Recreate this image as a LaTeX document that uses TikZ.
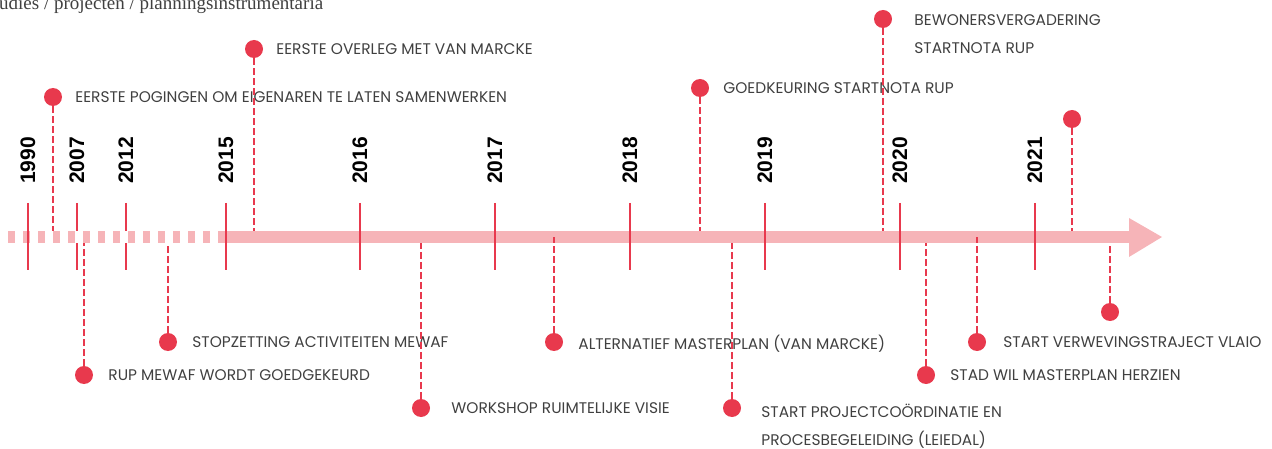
\documentclass[tikz,border=0pt]{standalone}
\usepackage{fontspec}
\setmainfont{Poppins}
\newfontfamily\yearfont{Liberation Sans}
\newfontfamily\headfont{Liberation Serif}
\usetikzlibrary{positioning}

\definecolor{tlred}{RGB}{232,57,77}
\definecolor{tlpink}{RGB}{246,180,184}
\definecolor{tlgrey}{RGB}{64,64,64}

\tikzset{
  evdot/.style={circle, fill=tlred, inner sep=0pt, minimum size=18pt},
  evline/.style={tlred, line width=1.6pt, dash pattern=on 6.5pt off 3.5pt},
  evtext/.style={inner sep=0pt, text depth=0pt, text=tlgrey, align=left,
    font=\fontsize{15.4}{28}\selectfont},
  yeartick/.style={tlred, line width=2.5pt},
  yearlabel/.style={rotate=90, anchor=west, inner sep=0pt,
    font=\yearfont\bfseries\fontsize{21}{21}\selectfont}
}

\begin{document}
\begin{tikzpicture}[x=1pt, y=-1pt, node distance=13pt]
  \useasboundingbox (0,0) rectangle (1272,449);
  \node[anchor=base west, inner sep=0pt, text=tlgrey, font=\headfont\fontsize{19}{19}\selectfont]
    (head) at (-1,9.5) {udies / projecten / planningsinstrumentaria};

  % axis: dashed before 2015, solid with arrow after
  \draw[tlpink, line width=12pt, dash pattern=on 7pt off 8pt] (8,237) -- (225,237);
  \draw[tlpink, line width=12pt] (218,237) -- (1130,237);
  \fill[tlpink] (1129,218) -- (1162,237) -- (1129,257) -- cycle;
  \coordinate (axtop) at (0,231);
  \coordinate (axmid) at (0,237);
  \coordinate (axbot) at (0,243);

  % years
  \foreach \x/\yr in {28/1990, 77/2007, 126/2012, 226/2015, 360/2016, 495/2017,
                      630/2018, 765/2019, 900/2020, 1035/2021} {
    \draw[yeartick] (\x,203) -- (\x,270);
    \node[yearlabel] (y\yr) at (\x,184) {\yr};
  }
  \draw[white, line width=12pt, dash pattern=on 8pt off 7pt] (15,237) -- (218,237);

  % events above the axis
  \node[evdot] (d-pogingen) at (53,97) {};
  \node[evtext, right=of d-pogingen] (t-pogingen) {EERSTE POGINGEN OM EIGENAREN TE LATEN SAMENWERKEN};
  \node[evdot] (d-overleg) at (254,49) {};
  \node[evtext, right=of d-overleg] (t-overleg) {EERSTE OVERLEG MET VAN MARCKE};
  \node[evdot] (d-goedkeuring) at (700,88) {};
  \node[evtext, right=14pt of d-goedkeuring] (t-goedkeuring) {GOEDKEURING STARTNOTA RUP};
  \node[evdot] (d-bewoners) at (883,19) {};
  \node[evtext, right=22pt of d-bewoners, yshift=-15pt] (t-bewoners) {BEWONERSVERGADERING\\STARTNOTA RUP};
  \node[evdot] (d-boven) at (1072,119) {};
  \foreach \d in {pogingen, overleg, goedkeuring, bewoners, boven}
    \draw[evline] (d-\d) -- (d-\d |- axtop);

  % events below the axis
  \node[evdot] (d-rup) at (84,375) {};
  \node[evtext, right=15pt of d-rup] (t-rup) {RUP MEWAF WORDT GOEDGEKEURD};
  \node[evdot] (d-stop) at (168,342) {};
  \node[evtext, right=15pt of d-stop] (t-stop) {STOPZETTING ACTIVITEITEN MEWAF};
  \node[evdot] (d-workshop) at (421,408) {};
  \node[evtext, right=21pt of d-workshop] (t-workshop) {WORKSHOP RUIMTELIJKE VISIE};
  \node[evdot] (d-alt) at (554,342) {};
  \node[evtext, right=15pt of d-alt] (t-alt) {ALTERNATIEF MASTERPLAN (VAN MARCKE)};
  \node[evdot] (d-start) at (732,408) {};
  \node[evtext, right=20pt of d-start, yshift=-17pt] (t-start) {START PROJECTCOÖRDINATIE EN\\PROCESBEGELEIDING (LEIEDAL)};
  \node[evdot] (d-stad) at (926,375) {};
  \node[evtext, right=15pt of d-stad] (t-stad) {STAD WIL MASTERPLAN HERZIEN};
  \node[evdot] (d-vlaio) at (977,342) {};
  \node[evtext, right=17pt of d-vlaio] (t-vlaio) {START VERWEVINGSTRAJECT VLAIO};
  \node[evdot] (d-onder) at (1110,312) {};
  \foreach \d in {rup, stop, workshop, start, stad, onder}
    \draw[evline] (d-\d) -- (d-\d |- axbot);
  \foreach \d in {alt, vlaio}
    \draw[evline] (d-\d) -- (d-\d |- axmid);
\end{tikzpicture}
\end{document}
